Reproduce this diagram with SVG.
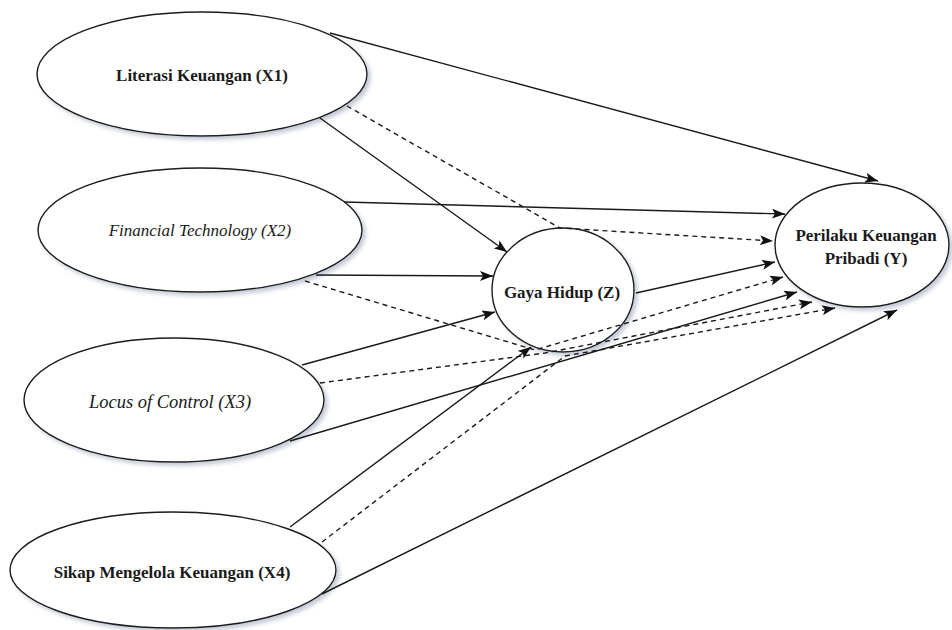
<svg xmlns="http://www.w3.org/2000/svg" width="952" height="630" viewBox="0 0 952 630">
  <defs>
    <filter id="soft" x="-10%" y="-10%" width="125%" height="130%">
      <feDropShadow dx="3" dy="3" stdDeviation="2" flood-color="#7d86a0" flood-opacity="0.45"/>
    </filter>
    <marker id="arrow" markerUnits="userSpaceOnUse" markerWidth="14" markerHeight="10" refX="13" refY="5" orient="auto">
      <path d="M0,0 L13,5 L0,10 L3,5 z" fill="#111"/>
    </marker>
    <style>
      .node ellipse { fill: #fff; stroke: #1a1a1a; stroke-width: 1.4; filter: url(#soft); }
      .lbl { font-family: "Liberation Serif", "Times New Roman", serif; font-size: 17px; fill: #1a1a1a; text-anchor: middle; }
      .b { font-weight: bold; }
      .i { font-style: italic; }
      .edge { fill: none; stroke: #1a1a1a; stroke-width: 1.4; }
      .direct { marker-end: url(#arrow); }
      .indirect { stroke-dasharray: 5 4; marker-end: url(#arrow); }
    </style>
  </defs>

  <rect width="952" height="630" fill="#fff"/>

  <!-- latent variables -->
  <g id="x1" class="node">
    <ellipse cx="202" cy="74" rx="165" ry="62"/>
    <text class="lbl b" x="202" y="81">Literasi Keuangan (X1)</text>
  </g>
  <g id="x2" class="node">
    <ellipse cx="200" cy="230" rx="162" ry="62"/>
    <text class="lbl i" x="200" y="236">Financial Technology (X2)</text>
  </g>
  <g id="x3" class="node">
    <ellipse cx="174" cy="400" rx="150" ry="62"/>
    <text class="lbl i" x="170" y="408" style="font-size:18.5px">Locus of Control (X3)</text>
  </g>
  <g id="x4" class="node">
    <ellipse cx="173" cy="570" rx="163" ry="58"/>
    <text class="lbl b" x="172" y="578">Sikap Mengelola Keuangan (X4)</text>
  </g>
  <g id="z" class="node">
    <ellipse cx="563" cy="290" rx="71" ry="62"/>
    <text class="lbl b" x="562" y="298">Gaya Hidup (Z)</text>
  </g>
  <g id="y" class="node">
    <ellipse cx="862" cy="245" rx="87" ry="62"/>
    <text class="lbl b" x="866" y="241">Perilaku Keuangan</text>
    <text class="lbl b" x="866" y="264">Pribadi (Y)</text>
  </g>

  <!-- paths -->
  <g id="connectors" class="edge">
    <!-- direct effects on Y -->
    <line class="direct" x1="330" y1="33" x2="878" y2="181"/>
    <line class="direct" x1="344" y1="202" x2="785" y2="214"/>
    <line class="direct" x1="290" y1="441" x2="797" y2="292"/>
    <line class="direct" x1="322" y1="594" x2="897" y2="310"/>
    <line class="direct" x1="636" y1="293" x2="775" y2="262"/>
    <!-- direct effects on Z -->
    <line class="direct" x1="320" y1="118" x2="507" y2="252"/>
    <line class="direct" x1="316" y1="275" x2="493" y2="276"/>
    <line class="direct" x1="302" y1="365" x2="495" y2="312"/>
    <line class="direct" x1="290" y1="527" x2="531" y2="347"/>
    <!-- indirect effects through Z -->
    <polyline class="indirect" points="347,106 560,228 773,241"/>
    <polyline class="indirect" points="305,281 535,350 783,277"/>
    <polyline class="indirect" points="320,383 545,353 812,302"/>
    <polyline class="indirect" points="322,542 565,356 835,308"/>
  </g>
</svg>
